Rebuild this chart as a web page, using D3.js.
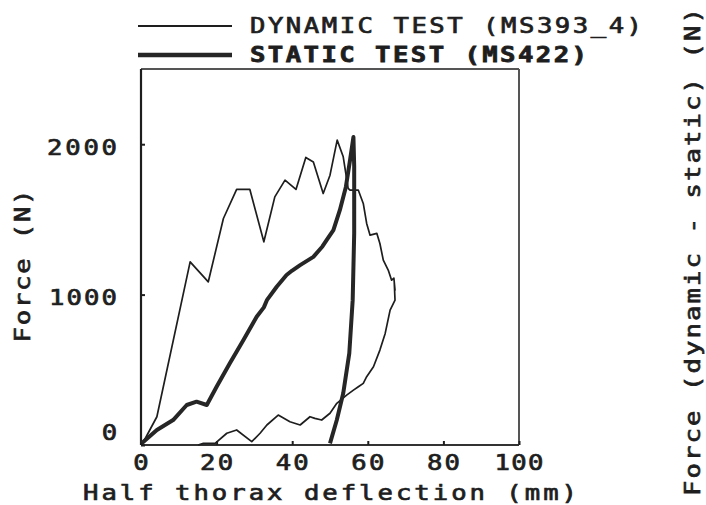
<!DOCTYPE html>
<html>
<head>
<meta charset="utf-8">
<script src="https://cdn.jsdelivr.net/npm/d3@7"></script>
<style>
  html, body { margin: 0; padding: 0; background: #fff; }
  svg { display: block; }
  text { font-family: "DejaVu Sans Mono", "Liberation Mono", monospace; fill: #1e1e1e; }
</style>
</head>
<body>
<svg id="chart" width="706" height="505"></svg>
<script>
// ---- data ----
const dynamicDeflection = [0.2, 4.2, 13.0, 17.8, 21.8, 25.3, 28.8, 32.5, 35.4, 38.1, 41.0, 43.6, 45.6, 48.2, 50.0, 51.9, 53.5, 54.8, 55.3, 57.5, 58.8, 59.7, 60.6, 62.4, 63.2, 64.1, 65.4, 66.3, 66.9, 67.2, 67.0, 67.2, 65.9, 64.6, 63.2, 61.5, 59.7, 58.8, 57.5, 56.2, 54.4, 51.8, 50.0, 47.8, 46.0, 44.7, 42.1, 39.4, 36.3, 33.3, 31.5, 29.3, 25.3, 22.7, 19.6, 16.5, 15.1];
const dynamicForce      = [0, 188, 1218, 1085, 1506, 1699, 1699, 1351, 1650, 1761, 1699, 1912, 1882, 1672, 1794, 2027, 1916, 1706, 1694, 1694, 1606, 1473, 1395, 1407, 1340, 1229, 1163, 1096, 1110, 1030, 1080, 963, 897, 742, 631, 520, 454, 410, 387, 365, 332, 277, 211, 166, 177, 188, 133, 155, 199, 133, 78, 22, 100, 78, 11, 11, 0];

const staticDeflection = [0.2, 4.2, 8.5, 12.1, 14.7, 17.4, 20.0, 23.5, 27.1, 30.6, 32.5, 33.3, 35.9, 38.5, 40.0, 42.1, 45.6, 48.0, 49.1, 50.9, 52.6, 54.2, 55.3, 56.2, 56.4, 56.4, 56.0, 55.1, 53.5, 51.8, 50.0];
const staticForce      = [11, 100, 166, 266, 288, 266, 387, 543, 698, 853, 915, 963, 1052, 1130, 1160, 1196, 1251, 1320, 1362, 1429, 1561, 1716, 1894, 2048, 1854, 1407, 963, 609, 344, 166, 11];

const xTicks = [0, 20, 40, 60, 80, 100];
const yTicks = [0, 1000, 2000];

const legendLabels = ["DYNAMIC TEST  (MS393_4)", "STATIC TEST  (MS422)"];
const xTitle = "Half thorax deflection  (mm)";
const yTitle = "Force (N)";
const rightTitle = "Force (dynamic - static) (N)";

// ---- drawing ----
const svg = d3.select("#chart");
const x = d3.scaleLinear().domain([0, 100]).range([141, 519]);
const y = d3.scaleLinear().domain([0, 2500]).range([445, 69]);

const ink = "#1e1e1e";

// frame
svg.append("line").attr("x1", x(0)).attr("x2", x(100)).attr("y1", y(2500)).attr("y2", y(2500))
  .attr("stroke", "#555").attr("stroke-width", 2);
svg.append("line").attr("x1", x(100)).attr("x2", x(100)).attr("y1", y(2500)).attr("y2", y(0))
  .attr("stroke", "#555").attr("stroke-width", 2);

// axes via d3 (inward small ticks)
const xAxis = d3.axisTop(x).tickValues(xTicks).tickSize(4).tickFormat("");
const gx = svg.append("g").attr("transform", `translate(0,${y(0)})`).call(xAxis);
gx.select(".domain").attr("stroke", "#333").attr("stroke-width", 2.2).attr("d", `M${x(0)},0H${x(100)}`);
gx.selectAll(".tick line").attr("stroke", ink).attr("stroke-width", 2);

const yAxis = d3.axisRight(y).tickValues(yTicks).tickSize(4).tickFormat("");
const gy = svg.append("g").attr("transform", `translate(${x(0)},0)`).call(yAxis);
gy.select(".domain").attr("stroke", ink).attr("stroke-width", 2.2).attr("d", `M0,${y(2500)}V${y(0)}`);
gy.selectAll(".tick line").attr("stroke", ink).attr("stroke-width", 2);

// curves
const line = d3.line().x(d => x(d[0])).y(d => y(d[1])).curve(d3.curveLinear);
const dynPts = dynamicDeflection.map((v, i) => [v, dynamicForce[i]]);
const statPts = staticDeflection.map((v, i) => [v, staticForce[i]]);

svg.append("path").attr("d", line(dynPts)).attr("fill", "none")
  .attr("stroke", ink).attr("stroke-width", 1.7).attr("stroke-linejoin", "round");
svg.append("path").attr("d", line(statPts)).attr("fill", "none")
  .attr("stroke", "#262626").attr("stroke-width", 4).attr("stroke-linejoin", "round");

// helper for wide plotter-like text (horizontally stretched monospace)
const SX = 1.22;
function txt(s, cx, cy, len, opts = {}) {
  const rot = opts.rotate || 0;
  const g = svg.append("g").attr("transform", `translate(${cx},${cy}) rotate(${rot}) scale(${SX},1)`);
  g.append("text")
    .attr("x", 0).attr("y", 0)
    .attr("text-anchor", "middle")
    .attr("font-size", opts.size || 21)
    .attr("font-weight", opts.weight || "normal")
    .attr("stroke", ink).attr("stroke-width", opts.sw == null ? 0.7 : opts.sw)
    .attr("textLength", len / SX).attr("lengthAdjust", "spacing")
    .text(s);
  return g;
}

// x tick labels
const xLabelWidth = { 0: 15, 20: 33, 40: 33, 60: 33, 80: 33, 100: 49 };
xTicks.forEach(v => txt(String(v), x(v), 470, xLabelWidth[v]));

// y tick labels
txt("2000", 82, 155, 70);
txt("1000", 83, 305, 68);
txt("0", 109.5, 440, 15);

// axis titles
txt(xTitle, 330, 500, 494);
txt(yTitle, 30, 266, 153, { rotate: -90 });
txt(rightTitle, 700, 252, 488, { rotate: -90 });

// legend
svg.append("line").attr("x1", 138).attr("x2", 232).attr("y1", 26).attr("y2", 26)
  .attr("stroke", ink).attr("stroke-width", 1.8);
svg.append("line").attr("x1", 138).attr("x2", 232).attr("y1", 55).attr("y2", 55)
  .attr("stroke", "#262626").attr("stroke-width", 4.5);
txt(legendLabels[0], 446, 33, 392);
txt(legendLabels[1], 418.5, 62, 337, { weight: "bold", sw: 0.8 });
</script>
</body>
</html>
